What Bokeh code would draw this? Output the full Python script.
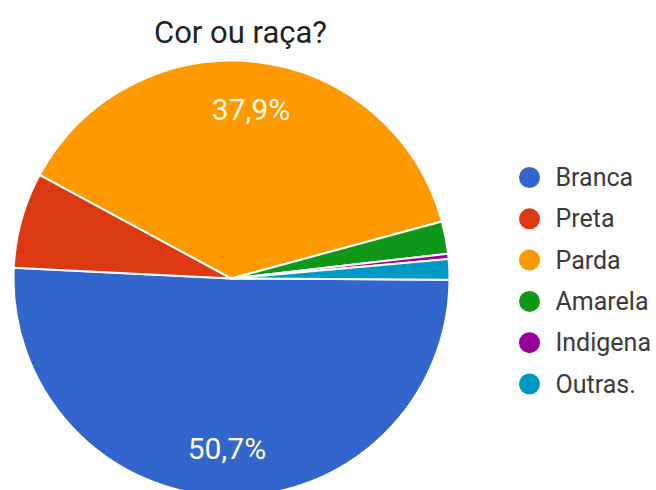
import numpy as np
from bokeh.plotting import figure
from bokeh.models import ColumnDataSource, Range1d
from bokeh.core.properties import value
from bokeh.embed import file_html
from bokeh.resources import INLINE

title = "Cor ou raça?"
categories = ["Branca", "Preta", "Parda", "Amarela", "Indigena", "Outras."]
shares = [50.7, 7.1, 37.9, 2.4, 0.4, 1.5]
colors = ["#3366cc", "#dc3912", "#ff9900", "#109618", "#990099", "#0099c6"]

W, H = 656, 490
cx, cy, R = 231, 212, 218
offset = np.deg2rad(-0.3)

vals = np.array(shares, dtype=float)
frac = vals / vals.sum()
cum = np.concatenate([[0], np.cumsum(frac)])
starts = offset - cum[:-1] * 2 * np.pi
ends = offset - cum[1:] * 2 * np.pi
mids = (starts + ends) / 2

p = figure(width=W, height=H, output_backend="svg", toolbar_location=None,
           x_range=Range1d(0, W), y_range=Range1d(0, H), min_border=0,
           outline_line_color=None)
p.axis.visible = False
p.grid.visible = False
p.background_fill_color = "white"

src = ColumnDataSource(dict(start=starts, end=ends, color=colors, cat=categories))
p.wedge(x=cx, y=cy, radius=R, start_angle="start", end_angle="end",
        direction="clock", fill_color="color", line_color="white", line_width=2,
        source=src)

# percentage labels
lr = 0.78 * R
show = frac >= 0.1
labs = [f"{v:.1f}%".replace(".", ",") for v in vals]
lsrc = ColumnDataSource(dict(
    x=(cx + lr * np.cos(mids))[show], y=(cy + lr * np.sin(mids))[show],
    t=[l for l, s in zip(labs, show) if s]))
p.text(x="x", y="y", text="t", source=lsrc, text_align="center",
       text_baseline="middle", text_font=value("Roboto"),
       text_font_size="30px", text_color="#fffbe8")

# title
p.text(x=[240], y=[H - 32], text=[title], text_align="center",
       text_baseline="middle", text_font=value("Roboto"),
       text_font_size="31px", text_color="#222222")

# legend
n = len(categories)
ly = (H - 177) - np.arange(n) * 41.3
lg = ColumnDataSource(dict(x=[529] * n, tx=[555] * n, y=ly, c=colors, t=categories))
p.scatter(x="x", y="y", size=21, fill_color="c", line_color=None, source=lg)
p.text(x="tx", y="y", text="t", source=lg, text_align="left",
       text_baseline="middle", text_font=value("Roboto"),
       text_font_size="25px", text_color="#3a3a3a")

open("out.html", "w").write(file_html(p, INLINE))
